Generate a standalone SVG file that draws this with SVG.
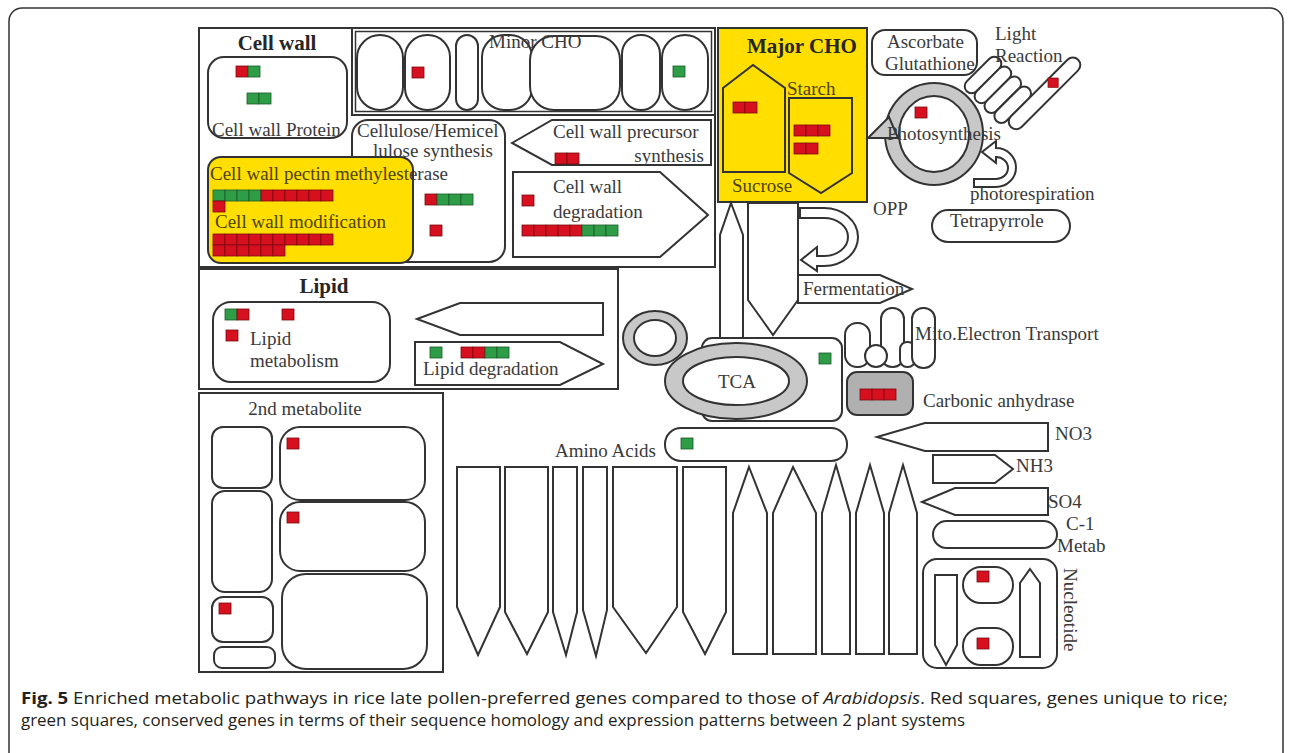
<svg xmlns="http://www.w3.org/2000/svg" xmlns:xlink="http://www.w3.org/1999/xlink" width="1290" height="753" viewBox="0 0 1290 753">
<style>
.s{fill:#fff;stroke:#333;stroke-width:2}
.n{fill:none;stroke:#333;stroke-width:2}
.y{fill:#ffde00;stroke:#333;stroke-width:2}
.gr{fill:#c8c8c8;stroke:#333;stroke-width:2}
.t{font-family:"Liberation Serif","Times New Roman",serif;font-size:19px;fill:#3a3a3a}
.b{font-weight:bold;font-size:21px;fill:#262626}
.ty{fill:#4d4300}
.r{fill:#d6101f;stroke:#7a0a10;stroke-width:0.8}
.g{fill:#2f9c48;stroke:#1b5a2a;stroke-width:0.8}
.cap{font-family:"Open Sans","Noto Sans",sans-serif;font-size:16px;fill:#231f20}
</style>
<defs>
<rect id="R" width="12" height="11" class="r"/>
<rect id="G" width="12" height="11" class="g"/>
</defs>
<rect id="frame" x="9" y="8" width="1274" height="760" rx="13" fill="#fff" stroke="#333" stroke-width="1.5"/>

<g id="cellwall-section">
<rect class="n" x="199" y="28" width="516" height="239"/>
<line class="n" x1="352" y1="28" x2="352" y2="115"/>
<text class="t b" x="277" y="50" text-anchor="middle">Cell wall</text>
</g>
<g id="cellwall-protein">
<rect class="s" x="208" y="57" width="139" height="81" rx="16"/>
<text class="t" x="212" y="136">Cell wall Protein</text>
<use href="#R" x="236" y="66"/><use href="#G" x="248" y="66"/>
<use href="#G" x="247" y="93"/><use href="#G" x="259" y="93"/>
</g>
<g id="minor-cho">
<rect class="n" x="352" y="28" width="363" height="87"/>
<rect fill="none" stroke="#333" stroke-width="1.5" x="355.5" y="31.5" width="356" height="80"/>
<rect class="s" x="357" y="35" width="46" height="75" rx="23"/>
<rect class="s" x="405" y="35" width="45" height="75" rx="22"/>
<rect class="s" x="456" y="35" width="22" height="75" rx="11"/>
<rect class="s" x="482" y="35" width="50" height="75" rx="22"/>
<rect class="s" x="530" y="36" width="90" height="74" rx="24"/>
<rect class="s" x="622" y="35" width="38" height="75" rx="19"/>
<rect class="s" x="662" y="35" width="46" height="75" rx="23"/>
<text class="t" x="489" y="48">Minor CHO</text>
<use href="#R" x="412" y="67"/>
<use href="#G" x="673" y="66"/>
</g>
<g id="cellulose">
<rect class="s" x="352" y="120" width="153" height="142" rx="16"/>
<text class="t" x="357" y="137">Cellulose/Hemicel</text>
<text class="t" x="373" y="157">lulose synthesis</text>
<use href="#R" x="425" y="194"/><use href="#G" x="437" y="194"/><use href="#G" x="449" y="194"/><use href="#G" x="461" y="194"/>
<use href="#R" x="430" y="225"/>
</g>
<g id="pectin-modification">
<rect class="y" x="208" y="157" width="205" height="106" rx="13"/>
<text class="t ty" x="210" y="180">Cell wall pectin methylest<tspan fill="#3a3a3a">erase</tspan></text>
<use href="#G" x="213" y="190"/><use href="#G" x="225" y="190"/><use href="#G" x="237" y="190"/><use href="#G" x="249" y="190"/>
<use href="#R" x="261" y="190"/><use href="#R" x="273" y="190"/><use href="#R" x="285" y="190"/><use href="#R" x="297" y="190"/><use href="#R" x="309" y="190"/><use href="#R" x="321" y="190"/>
<use href="#R" x="213" y="201"/>
<text class="t ty" x="215" y="228">Cell wall modification</text>
<use href="#R" x="213" y="234"/><use href="#R" x="225" y="234"/><use href="#R" x="237" y="234"/><use href="#R" x="249" y="234"/><use href="#R" x="261" y="234"/><use href="#R" x="273" y="234"/><use href="#R" x="285" y="234"/><use href="#R" x="297" y="234"/><use href="#R" x="309" y="234"/><use href="#R" x="321" y="234"/>
<use href="#R" x="213" y="245"/><use href="#R" x="225" y="245"/><use href="#R" x="237" y="245"/><use href="#R" x="249" y="245"/><use href="#R" x="261" y="245"/><use href="#R" x="273" y="245"/>
</g>
<g id="cw-precursor">
<polygon class="s" points="512,143 552,120 711,120 711,165 552,165"/>
<text class="t" x="553" y="138">Cell wall precursor</text>
<text class="t" x="704" y="162" text-anchor="end">synthesis</text>
<use href="#R" x="555" y="153"/><use href="#R" x="567" y="153"/>
</g>
<g id="cw-degradation">
<polygon class="s" points="513,172 660,172 708,215 660,257 513,257"/>
<text class="t" x="553" y="193">Cell wall</text>
<text class="t" x="553" y="218">degradation</text>
<use href="#R" x="522" y="195"/>
<use href="#R" x="522" y="225"/><use href="#R" x="534" y="225"/><use href="#R" x="546" y="225"/><use href="#R" x="558" y="225"/><use href="#R" x="570" y="225"/>
<use href="#G" x="582" y="225"/><use href="#G" x="594" y="225"/><use href="#G" x="606" y="225"/>
</g>

<g id="major-cho">
<rect class="y" x="718" y="28" width="149" height="174"/>
<text class="t b" x="747" y="53">Major CHO</text>
<polygon class="n" points="723,88 753,65 785,88 785,172 723,172"/>
<text class="t ty" x="732" y="192">Sucrose</text>
<use href="#R" x="733" y="102"/><use href="#R" x="745" y="102"/>
<polygon class="n" points="789,98 852,98 852,173 821,193 789,173"/>
<text class="t ty" x="787" y="95">Starch</text>
<use href="#R" x="794" y="125"/><use href="#R" x="806" y="125"/><use href="#R" x="818" y="125"/>
<use href="#R" x="794" y="143"/><use href="#R" x="806" y="143"/>
</g>
<g id="ascorbate">
<rect class="s" x="872" y="30" width="105" height="45" rx="13"/>
<text class="t" x="887" y="48">Ascorbate</text>
<text class="t" x="885" y="70">Glutathione</text>
</g>
<g id="light-reaction">
<g transform="translate(983,75) rotate(-45)">
<rect class="s" x="-23" y="-7" width="46" height="14" rx="7"/>
<rect class="s" x="-23" y="7" width="46" height="14" rx="7"/>
<rect class="s" x="-23" y="21" width="46" height="14" rx="7"/>
<rect class="s" x="-23" y="35" width="46" height="14" rx="7"/>
<rect class="s" x="-17" y="49" width="95" height="15" rx="7.5"/>
</g>
<use href="#R" x="1048" y="78" transform="translate(1048,78) scale(0.85) translate(-1048,-78)"/>
<text class="t" x="995" y="40">Light</text>
<text class="t" x="995" y="62">Reaction</text>
</g>
<g id="photosynthesis">
<ellipse class="gr" cx="934" cy="134" rx="49" ry="51"/>
<ellipse class="s" cx="934" cy="134" rx="35" ry="38"/>
<polygon class="gr" points="868,138 889,117 898,138"/>
<use href="#R" x="915" y="107"/>
<text class="t" x="887" y="140">Photosynthesis</text>
</g>
<g id="photorespiration">
<text class="t" x="970" y="200">photorespiration</text>
</g>
<g id="tetrapyrrole">
<rect class="s" x="932" y="210" width="138" height="32" rx="16"/>
<text class="t" x="950" y="227">Tetrapyrrole</text>
</g>
<g id="opp">
<text class="t" x="873" y="215">OPP</text>
</g>
<g id="glycolysis">
<polygon class="s" points="731,203 743,235 743,340 720,340 720,235"/>
<polygon class="s" points="748,203 798,203 798,300 773,335 748,300"/>
</g>
<g id="fermentation">
<polygon class="s" points="798,275 880,275 912,289 880,303 798,303"/>
<text class="t" x="803" y="295">Fermentation</text>
</g>

<g id="lipid">
<rect class="n" x="199" y="269" width="419" height="120"/>
<text class="t b" x="324" y="293" text-anchor="middle">Lipid</text>
<rect class="s" x="213" y="302" width="177" height="80" rx="18"/>
<use href="#G" x="225" y="309"/><use href="#R" x="237" y="309"/>
<use href="#R" x="282" y="309"/>
<use href="#R" x="226" y="330"/>
<text class="t" x="250" y="345">Lipid</text>
<text class="t" x="250" y="367">metabolism</text>
<polygon class="s" points="417,319 460,303 603,303 603,335 460,335"/>
<polygon class="s" points="415,342 560,342 603,364 560,385 415,385"/>
<use href="#G" x="430" y="347"/>
<use href="#R" x="461" y="347"/><use href="#R" x="473" y="347"/><use href="#G" x="485" y="347"/><use href="#G" x="497" y="347"/>
<text class="t" x="423" y="375">Lipid degradation</text>
</g>

<g id="tca">
<ellipse class="gr" cx="655" cy="338" rx="32" ry="27"/>
<ellipse class="s" cx="655" cy="338" rx="21" ry="18"/>
<rect class="s" x="702" y="338" width="140" height="83" rx="10"/>
<ellipse class="gr" cx="736" cy="381" rx="71" ry="38"/>
<ellipse class="s" cx="736" cy="381" rx="53" ry="24"/>
<text class="t" x="737" y="388" text-anchor="middle">TCA</text>
<use href="#G" x="819" y="353"/>
</g>
<g id="mito-electron">
<rect class="s" x="845" y="323" width="25" height="44" rx="12"/>
<rect class="s" x="881" y="308" width="23" height="59" rx="11"/>
<rect class="s" x="900" y="342" width="15" height="25" rx="7"/>
<rect class="s" x="912" y="308" width="23" height="60" rx="11"/>
<circle class="s" cx="876" cy="356" r="11"/>
<text class="t" x="915" y="340">Mito.Electron Transport</text>
</g>
<g id="carbonic">
<rect x="847" y="372" width="66" height="43" rx="10" fill="#b0b0b0" stroke="#333" stroke-width="2"/>
<use href="#R" x="860" y="389"/><use href="#R" x="872" y="389"/><use href="#R" x="884" y="389"/>
<text class="t" x="923" y="407">Carbonic anhydrase</text>
</g>

<g id="second-metabolite">
<rect class="n" x="199" y="393" width="244" height="279"/>
<text class="t" x="305" y="415" text-anchor="middle">2nd metabolite</text>
<rect class="s" x="212" y="427" width="60" height="61" rx="11"/>
<rect class="s" x="212" y="491" width="60" height="101" rx="13"/>
<rect class="s" x="212" y="597" width="61" height="45" rx="11"/>
<rect class="s" x="214" y="647" width="61" height="21" rx="8"/>
<rect class="s" x="280" y="427" width="145" height="73" rx="20"/>
<rect class="s" x="280" y="502" width="145" height="69" rx="20"/>
<rect class="s" x="282" y="574" width="145" height="95" rx="24"/>
<use href="#R" x="287" y="438"/>
<use href="#R" x="287" y="512"/>
<use href="#R" x="219" y="603"/>
</g>

<g id="amino-acids">
<text class="t" x="555" y="457">Amino Acids</text>
<rect class="s" x="665" y="428" width="182" height="33" rx="16"/>
<use href="#G" x="681" y="438"/>
<polygon class="s" points="457,467 500,467 500,607 478,655 457,607"/>
<polygon class="s" points="505,467 548,467 548,612 527,654 505,612"/>
<polygon class="s" points="553,467 577,467 577,612 566,655 553,612"/>
<polygon class="s" points="583,467 607,467 607,610 596,656 583,610"/>
<polygon class="s" points="613,467 677,467 677,607 646,653 613,607"/>
<polygon class="s" points="683,467 726,467 726,612 705,654 683,612"/>
<polygon class="s" points="749,467 767,513 767,654 733,654 733,513"/>
<polygon class="s" points="793,467 816,513 816,654 773,654 773,513"/>
<polygon class="s" points="836,465 850,513 850,654 822,654 822,513"/>
<polygon class="s" points="870,465 884,513 884,654 856,654 856,513"/>
<polygon class="s" points="903,465 917,513 917,654 889,654 889,513"/>
</g>
<g id="no3">
<polygon class="s" points="877,437 925,423 1048,423 1048,451 925,451"/>
<text class="t" x="1055" y="440">NO3</text>
</g>
<g id="nh3">
<polygon class="s" points="933,455 995,455 1013,469 995,483 933,483"/>
<text class="t" x="1016" y="472">NH3</text>
</g>
<g id="so4">
<polygon class="s" points="922,502 955,488 1048,488 1048,515 955,515"/>
<text class="t" x="1048" y="508">SO4</text>
</g>
<g id="c1-metab">
<rect class="s" x="933" y="521" width="124" height="27" rx="13.5"/>
<text class="t" x="1066" y="530" font-size="18">C-1</text>
<text class="t" x="1057" y="552" font-size="18">Metab</text>
</g>
<g id="nucleotide">
<rect class="s" x="923" y="559" width="134" height="109" rx="14"/>
<polygon class="s" points="935,575 957,575 957,645 946,665 935,645"/>
<rect class="s" x="963" y="567" width="50" height="36" rx="18"/>
<rect class="s" x="963" y="628" width="50" height="37" rx="18"/>
<polygon class="s" points="1030,569 1040,583 1040,657 1020,657 1020,583"/>
<use href="#R" x="977" y="571"/>
<use href="#R" x="977" y="638"/>
<text class="t" transform="translate(1064,568) rotate(90)">Nucleotide</text>
</g>

<g id="connectors">
<path class="s" d="M800,208 L824,208 A34 29 0 0 1 824,266 L817,266 L817,271 L801,260 L817,247 L817,256 L824,256 A24 19 0 0 0 824,218 L800,218 Z"/>
<path class="s" d="M996,148 A20 19.5 0 0 1 996,187 L974,187 L974,179 L996,179 A12 11 0 0 0 996,157 L996,163 L982,152 L996,141 Z"/>
</g>

<g id="caption">
<text class="cap" x="21" y="704" textLength="1207" lengthAdjust="spacingAndGlyphs"><tspan font-weight="bold">Fig. 5</tspan> Enriched metabolic pathways in rice late pollen-preferred genes compared to those of <tspan font-style="italic">Arabidopsis</tspan>. Red squares, genes unique to rice;</text>
<text class="cap" x="21" y="726" textLength="944" lengthAdjust="spacingAndGlyphs">green squares, conserved genes in terms of their sequence homology and expression patterns between 2 plant systems</text>
</g>
</svg>
